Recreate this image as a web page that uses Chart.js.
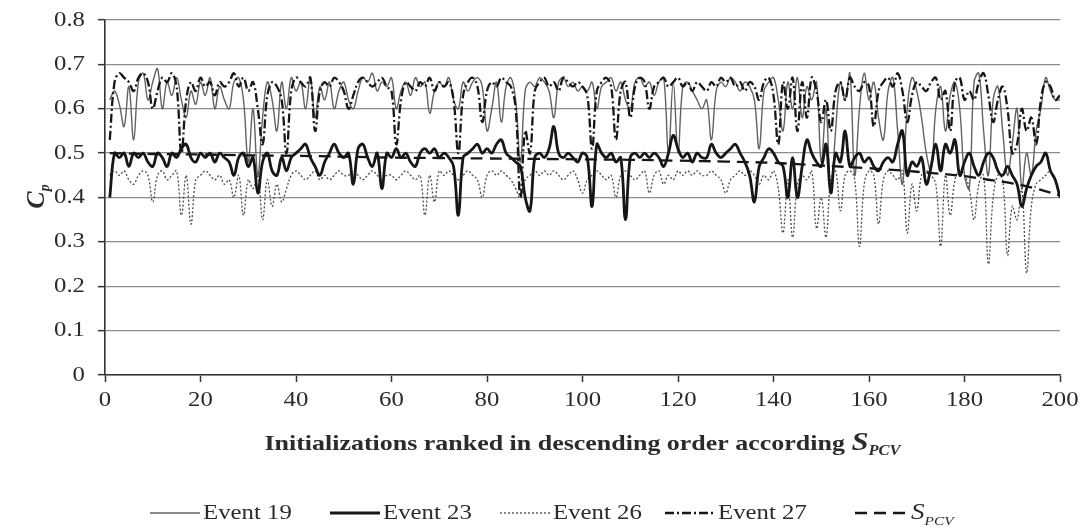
<!DOCTYPE html>
<html>
<head>
<meta charset="utf-8">
<script src="https://cdn.jsdelivr.net/npm/chart.js"></script>
<style>
  html, body { margin: 0; padding: 0; background: #fff; }
</style>
</head>
<body>
<canvas id="cpChart" width="1085" height="528"></canvas>
<script>
// ranked initializations 1..200, Cp per event
var event19 = [
  0.62,0.64,0.61,0.56,0.65,0.53,0.66,0.68,0.62,0.66,0.69,0.60,0.66,0.63,0.67,0.62,0.58,0.64,0.61,0.66,0.63,0.67,0.60,0.65,0.62,
  0.60,0.66,0.67,0.62,0.48,0.60,0.45,0.58,0.66,0.62,0.55,0.66,0.60,0.67,0.64,0.66,0.60,0.67,0.58,0.65,0.62,0.66,0.60,0.64,0.66,
  0.62,0.60,0.64,0.67,0.66,0.68,0.64,0.66,0.65,0.67,0.60,0.64,0.66,0.63,0.67,0.65,0.66,0.59,0.64,0.66,0.65,0.67,0.62,0.60,0.66,
  0.64,0.66,0.67,0.65,0.55,0.60,0.66,0.57,0.65,0.67,0.62,0.48,0.64,0.66,0.65,0.67,0.66,0.64,0.58,0.66,0.67,0.65,0.66,0.64,0.65,
  0.64,0.66,0.60,0.65,0.66,0.67,0.64,0.66,0.62,0.60,0.66,0.67,0.65,0.66,0.63,0.66,0.67,0.50,0.66,0.50,0.65,0.66,0.64,0.62,0.60,
  0.62,0.53,0.64,0.66,0.65,0.67,0.66,0.64,0.66,0.65,0.62,0.51,0.64,0.66,0.67,0.62,0.55,0.66,0.60,0.67,0.58,0.65,0.62,0.66,0.48,
  0.60,0.41,0.55,0.66,0.62,0.68,0.45,0.60,0.68,0.62,0.66,0.58,0.53,0.64,0.67,0.55,0.43,0.60,0.67,0.64,0.58,0.50,0.46,0.60,0.65,
  0.55,0.63,0.66,0.60,0.45,0.42,0.66,0.68,0.55,0.45,0.62,0.65,0.55,0.45,0.52,0.60,0.42,0.50,0.45,0.55,0.60,0.67,0.64,0.62,0.62
];
var event23 = [
  0.40,0.50,0.49,0.50,0.47,0.50,0.49,0.50,0.48,0.47,0.50,0.49,0.47,0.50,0.49,0.51,0.52,0.49,0.48,0.50,0.49,0.50,0.48,0.50,0.49,
  0.48,0.45,0.49,0.50,0.47,0.49,0.41,0.48,0.50,0.46,0.45,0.49,0.46,0.49,0.50,0.51,0.52,0.49,0.47,0.45,0.48,0.50,0.52,0.50,0.49,
  0.50,0.43,0.51,0.52,0.49,0.47,0.50,0.42,0.50,0.49,0.51,0.49,0.50,0.48,0.47,0.50,0.51,0.50,0.51,0.49,0.50,0.49,0.47,0.36,0.49,
  0.50,0.51,0.52,0.50,0.51,0.50,0.52,0.53,0.50,0.49,0.48,0.47,0.40,0.37,0.49,0.50,0.49,0.51,0.56,0.50,0.49,0.50,0.49,0.48,0.50,
  0.49,0.38,0.52,0.50,0.49,0.50,0.48,0.49,0.35,0.49,0.50,0.49,0.50,0.49,0.50,0.49,0.47,0.50,0.54,0.51,0.49,0.50,0.48,0.50,0.49,
  0.49,0.52,0.50,0.49,0.50,0.51,0.52,0.50,0.48,0.45,0.39,0.47,0.49,0.51,0.50,0.48,0.47,0.40,0.49,0.40,0.47,0.53,0.50,0.48,0.47,
  0.52,0.41,0.50,0.48,0.55,0.47,0.49,0.50,0.48,0.49,0.47,0.46,0.48,0.49,0.48,0.52,0.55,0.45,0.48,0.47,0.49,0.43,0.47,0.52,0.46,
  0.52,0.50,0.53,0.45,0.48,0.50,0.47,0.45,0.48,0.50,0.49,0.46,0.45,0.47,0.45,0.43,0.38,0.42,0.45,0.47,0.48,0.50,0.46,0.44,0.40
];
var event26 = [
  0.45,0.46,0.45,0.46,0.44,0.43,0.45,0.46,0.45,0.39,0.45,0.46,0.44,0.45,0.46,0.36,0.45,0.34,0.44,0.45,0.46,0.45,0.44,0.45,0.43,
  0.44,0.40,0.45,0.36,0.44,0.42,0.45,0.35,0.44,0.38,0.43,0.39,0.42,0.45,0.46,0.45,0.44,0.45,0.46,0.44,0.45,0.44,0.45,0.46,0.45,
  0.45,0.46,0.45,0.44,0.45,0.46,0.45,0.44,0.45,0.45,0.44,0.45,0.46,0.45,0.44,0.45,0.36,0.45,0.39,0.46,0.45,0.46,0.45,0.44,0.45,
  0.46,0.45,0.44,0.40,0.45,0.46,0.45,0.46,0.45,0.44,0.42,0.40,0.44,0.45,0.46,0.45,0.46,0.45,0.46,0.45,0.44,0.45,0.46,0.44,0.41,
  0.44,0.45,0.46,0.45,0.44,0.45,0.40,0.45,0.46,0.45,0.44,0.45,0.46,0.41,0.45,0.46,0.43,0.45,0.44,0.46,0.45,0.46,0.45,0.46,0.45,
  0.45,0.46,0.45,0.44,0.41,0.44,0.45,0.46,0.45,0.46,0.45,0.43,0.45,0.44,0.46,0.42,0.32,0.44,0.31,0.43,0.45,0.44,0.46,0.33,0.40,
  0.31,0.44,0.46,0.37,0.45,0.46,0.44,0.29,0.43,0.46,0.45,0.34,0.44,0.46,0.45,0.44,0.46,0.32,0.43,0.37,0.45,0.46,0.45,0.43,0.29,
  0.45,0.36,0.44,0.46,0.45,0.42,0.35,0.43,0.45,0.25,0.40,0.45,0.44,0.27,0.38,0.35,0.42,0.23,0.38,0.43,0.44,0.45,0.46,0.44,0.40
];
var event27 = [
  0.53,0.66,0.68,0.67,0.66,0.64,0.67,0.68,0.66,0.60,0.64,0.67,0.66,0.68,0.65,0.50,0.62,0.66,0.64,0.67,0.65,0.66,0.63,0.66,0.65,
  0.66,0.68,0.65,0.67,0.64,0.66,0.60,0.52,0.63,0.66,0.65,0.62,0.50,0.64,0.67,0.66,0.65,0.67,0.55,0.64,0.66,0.65,0.67,0.66,0.64,
  0.60,0.63,0.66,0.67,0.66,0.65,0.66,0.67,0.65,0.64,0.52,0.62,0.66,0.65,0.64,0.66,0.65,0.67,0.64,0.66,0.65,0.66,0.62,0.50,0.63,
  0.66,0.67,0.65,0.57,0.64,0.66,0.65,0.67,0.66,0.65,0.60,0.40,0.55,0.50,0.64,0.66,0.67,0.65,0.66,0.64,0.67,0.66,0.65,0.66,0.65,
  0.63,0.51,0.64,0.66,0.67,0.65,0.53,0.64,0.66,0.58,0.65,0.67,0.66,0.60,0.65,0.66,0.67,0.65,0.66,0.67,0.65,0.66,0.64,0.66,0.65,
  0.64,0.66,0.65,0.67,0.66,0.67,0.65,0.66,0.64,0.66,0.65,0.62,0.66,0.67,0.63,0.52,0.66,0.60,0.67,0.55,0.66,0.58,0.67,0.64,0.57,
  0.62,0.55,0.64,0.66,0.62,0.67,0.65,0.64,0.66,0.65,0.56,0.64,0.66,0.67,0.65,0.68,0.64,0.57,0.63,0.66,0.65,0.64,0.66,0.67,0.62,
  0.64,0.55,0.66,0.67,0.62,0.64,0.62,0.66,0.68,0.63,0.57,0.62,0.65,0.60,0.50,0.52,0.60,0.55,0.58,0.52,0.62,0.66,0.65,0.62,0.63
];
// S_PCV read at these ranks
var spcvRank = [1, 10, 20, 30, 40, 50, 60, 70, 80, 90, 100, 110, 120, 130, 140, 150, 160, 170, 180, 185, 190, 195, 200];
var spcv = [0.500,0.498,0.497,0.495,0.494,0.492,0.490,0.489,0.488,0.487,0.486,0.485,0.483,0.481,0.478,0.472,0.466,0.458,0.448,0.440,0.432,0.420,0.405];

var xTicks = [0, 20, 40, 60, 80, 100, 120, 140, 160, 180, 200];
var yTicks = [0, 0.1, 0.2, 0.3, 0.4, 0.5, 0.6, 0.7, 0.8];
var legendNames = ["Event 19", "Event 23", "Event 26", "Event 27", "S"];

function toPoints(vals, xs) {
  return vals.map(function (v, i) { return { x: xs ? xs[i] : i + 1, y: v }; });
}

var SERIF = "'Liberation Serif', 'Times New Roman', serif";
var SX = 1.18; // horizontal stretch of all lettering

function wideText(ctx, txt, x, y, align) {
  ctx.save();
  ctx.translate(x, y);
  ctx.scale(SX, 1);
  ctx.textAlign = align || "left";
  ctx.fillText(txt, 0, 0);
  ctx.restore();
}
function wideWidth(ctx, txt) { return ctx.measureText(txt).width * SX; }

var textPlugin = {
  id: "cpText",
  afterDraw: function (chart) {
    var ctx = chart.ctx;
    var xs = chart.scales.x, ys = chart.scales.y;
    ctx.save();
    ctx.fillStyle = "#2b2b2b";
    ctx.textBaseline = "middle";
    ctx.font = "21px " + SERIF;
    yTicks.forEach(function (v) {
      wideText(ctx, String(v), xs.left - 20, ys.getPixelForValue(v), "right");
    });
    xTicks.forEach(function (v) {
      wideText(ctx, String(v), xs.getPixelForValue(v), ys.bottom + 25, "center");
    });

    // x title with subscript
    ctx.textBaseline = "alphabetic";
    var main = "Initializations ranked in descending order according ";
    ctx.font = "bold 22px " + SERIF;
    var w1 = wideWidth(ctx, main);
    ctx.font = "bold italic 26px " + SERIF;
    var w2 = wideWidth(ctx, "S");
    ctx.font = "bold italic 14px " + SERIF;
    var w3 = wideWidth(ctx, "PCV");
    var x0 = (xs.left + xs.right) / 2 - (w1 + w2 + w3) / 2;
    var by = 450;
    ctx.font = "bold 22px " + SERIF;
    wideText(ctx, main, x0, by);
    ctx.font = "bold italic 26px " + SERIF;
    wideText(ctx, "S", x0 + w1, by);
    ctx.font = "bold italic 14px " + SERIF;
    wideText(ctx, "PCV", x0 + w1 + w2, by + 5);

    // y title C_p
    ctx.save();
    ctx.translate(44, 196);
    ctx.rotate(-Math.PI / 2);
    ctx.font = "bold italic 26px " + SERIF;
    ctx.textAlign = "left";
    var cw = ctx.measureText("C").width;
    ctx.fillText("C", -cw / 2 - 4, 0);
    ctx.font = "bold italic 14px " + SERIF;
    ctx.fillText("p", cw / 2 - 4, 5);
    ctx.restore();

    // legend below the axis title
    var ly = 513;
    var lx = [150, 330, 500, 665, 855];
    chart.data.datasets.forEach(function (ds) {
      var k = ds.legendIdx;
      var sx = lx[k];
      ctx.save();
      ctx.strokeStyle = ds.borderColor;
      ctx.lineWidth = ds.borderWidth;
      ctx.setLineDash(ds.borderDash || []);
      ctx.beginPath();
      ctx.moveTo(sx, ly);
      ctx.lineTo(sx + 50, ly);
      ctx.stroke();
      ctx.restore();
      ctx.fillStyle = "#2b2b2b";
      ctx.textBaseline = "middle";
      if (k < 4) {
        ctx.font = "21px " + SERIF;
        wideText(ctx, legendNames[k], sx + 53, ly);
      } else {
        ctx.font = "italic 23px " + SERIF;
        wideText(ctx, legendNames[k], sx + 56, ly);
        var sw = wideWidth(ctx, "S");
        ctx.font = "italic 13px " + SERIF;
        wideText(ctx, "PCV", sx + 56 + sw, ly + 9);
      }
    });
    ctx.restore();
  }
};

var common = { pointRadius: 0, pointHoverRadius: 0, fill: false, tension: 0.4 };
function series(label, data, color, width, dash, order, legendIdx) {
  return Object.assign({
    label: label, data: data, borderColor: color, borderWidth: width,
    borderDash: dash, order: order, legendIdx: legendIdx
  }, common);
}

function build() {
  new Chart(document.getElementById("cpChart"), {
    type: "line",
    data: {
      datasets: [
        series("Event 23", toPoints(event23), "#161616", 2.8, [], 0, 1),
        series("Event 27", toPoints(event27), "#161616", 2.3, [9, 3, 2, 3], 1, 3),
        series("S_PCV", toPoints(spcv, spcvRank), "#161616", 2.3, [12, 7], 2, 4),
        series("Event 19", toPoints(event19), "#626262", 1.4, [], 3, 0),
        series("Event 26", toPoints(event26), "#4a4a4a", 1.3, [2, 2], 4, 2)
      ]
    },
    options: {
      responsive: false,
      animation: false,
      devicePixelRatio: 1,
      layout: { padding: { left: 0, right: 25, top: 20, bottom: 0 } },
      plugins: { legend: { display: false }, tooltip: { enabled: false } },
      scales: {
        x: {
          type: "linear", min: 0, max: 200,
          afterFit: function (s) { s.height = 153; },
          ticks: { display: false, stepSize: 20 },
          grid: { drawOnChartArea: false, drawTicks: true, tickLength: 7, tickColor: "#333", tickWidth: 1.5 },
          border: { color: "#333", width: 1.6 }
        },
        y: {
          min: 0, max: 0.8,
          afterFit: function (s) { s.width = 105; },
          ticks: { display: false, stepSize: 0.1 },
          grid: { color: "#8c8c8c", lineWidth: 1.3, tickLength: 7, tickColor: "#333", tickWidth: 1.5 },
          border: { color: "#333", width: 1.6 }
        }
      }
    },
    plugins: [textPlugin]
  });
}

// canvas text needs the serif faces loaded before the first paint
Promise.all([
  document.fonts.load("21px 'Liberation Serif'"),
  document.fonts.load("bold 22px 'Liberation Serif'"),
  document.fonts.load("italic 23px 'Liberation Serif'"),
  document.fonts.load("bold italic 26px 'Liberation Serif'")
]).then(build, build);
</script>
</body>
</html>
